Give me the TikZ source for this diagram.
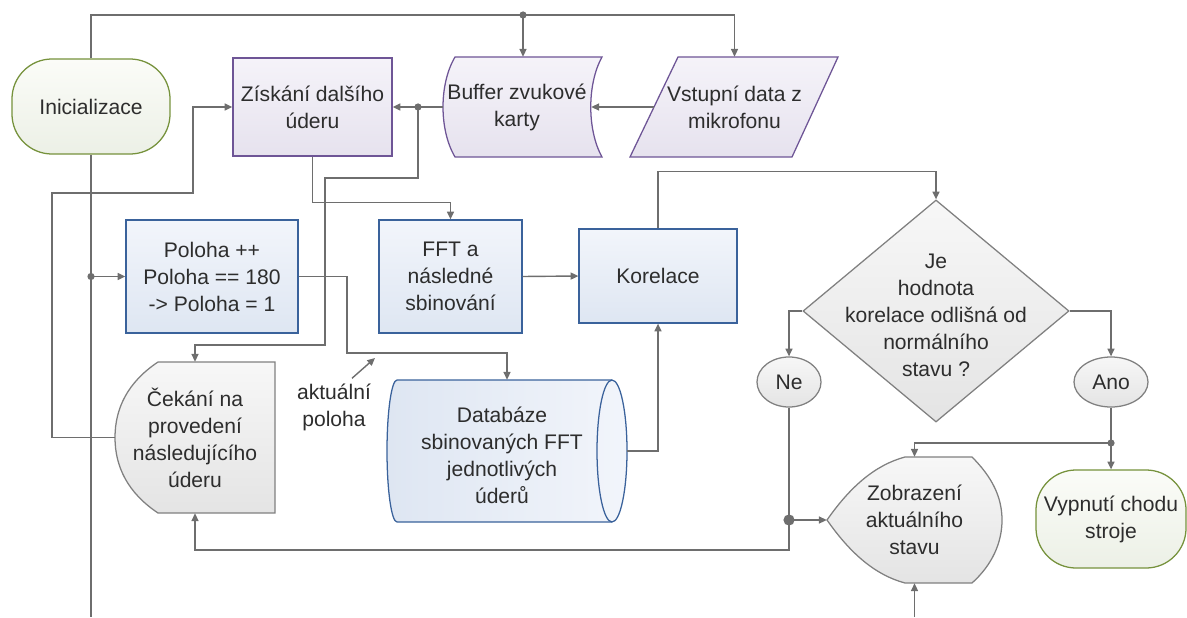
\documentclass[tikz,border=0pt]{standalone}
\usepackage{fontspec}
\setmainfont{Liberation Sans}
\usetikzlibrary{arrows.meta,shapes.geometric}
\definecolor{textgray}{RGB}{45,45,45}
\definecolor{linegray}{RGB}{110,110,110}
\definecolor{purpleb}{RGB}{110,85,150}
\definecolor{purpletop}{RGB}{245,243,249}
\definecolor{purplebot}{RGB}{230,226,238}
\definecolor{blueb}{RGB}{58,98,155}
\definecolor{bluetop}{RGB}{242,245,251}
\definecolor{bluebot}{RGB}{222,230,242}
\definecolor{greenb}{RGB}{118,146,60}
\definecolor{greentop}{RGB}{251,252,248}
\definecolor{greenbot}{RGB}{236,240,230}
\definecolor{grayb}{RGB}{128,128,128}
\definecolor{graytop}{RGB}{247,247,247}
\definecolor{graybot}{RGB}{228,228,228}
\begin{document}
\begin{tikzpicture}[x=0.025cm, y=-0.025cm,
	every node/.style={font=\fontsize{15}{19.2}\selectfont, text=textgray, align=center, inner sep=0pt},
	procpurple/.style={draw=purpleb, line width=0.9pt, top color=purpletop, bottom color=purplebot},
	procblue/.style={draw=blueb, line width=0.9pt, top color=bluetop, bottom color=bluebot},
	dbstyle/.style={draw=blueb, line width=0.9pt, left color=bluebot, right color=bluetop},
	termgreen/.style={draw=greenb, line width=0.9pt, top color=greentop, bottom color=greenbot, rounded corners=1cm},
	shapegray/.style={draw=grayb, line width=0.9pt, top color=graytop, bottom color=graybot},
	conn/.style={draw=linegray, line width=1pt},
	conarrow/.style={conn, -{Triangle[length=5.5pt, width=5pt]}}]
		\useasboundingbox (0,0) rectangle (1187,617);
		\node[termgreen, minimum width=3.95cm, minimum height=2.375cm] (init) at (91,106.5) {Inicializace};
		\node[procpurple, minimum width=3.975cm, minimum height=2.45cm] (zis) at (312.5,107) {Získání dalšího\\úderu};
		\draw[procpurple] (455,57) -- (602,57) .. controls (587,84) and (587,130) .. (602,157) -- (455,157) .. controls (439,130) and (439,84) .. (455,57) -- cycle;
		\node[minimum width=3.7cm, minimum height=2.5cm] (buf) at (517,107) {Buffer zvukové\\karty};
		\draw[procpurple] (678,57) -- (838,57) -- (792,157) -- (630,157) -- cycle;
		\node[minimum width=4.025cm, minimum height=2.5cm] (vin) at (734.5,107) {Vstupní data z\\mikrofonu};
		\node[procblue, minimum width=4.3cm, minimum height=2.825cm] (pol) at (212,276.5) {Poloha ++\\Poloha == 180\\-> Poloha = 1};
		\node[procblue, minimum width=3.575cm, minimum height=2.825cm] (fft) at (450.5,276.5) {FFT a\\následné\\sbinování};
		\node[procblue, minimum width=3.95cm, minimum height=2.35cm] (kor) at (658,276) {Korelace};
		% database cylinder
		\draw[dbstyle] (397,380) -- (612,380) .. controls (620.3,380) and (627,411.8) .. (627,451) .. controls (627,490.2) and (620.3,522) .. (612,522) -- (397,522) .. controls (391.5,522) and (387,490.2) .. (387,451) .. controls (387,411.8) and (391.5,380) .. (397,380) -- cycle;
		\draw[draw=blueb, line width=0.9pt] (612,380) .. controls (603.7,380) and (597,411.8) .. (597,451) .. controls (597,490.2) and (603.7,522) .. (612,522);
		\node[minimum width=6cm, minimum height=3.55cm] (db) at (507,451) {};
		\node (dbtext) at (502,455) {Databáze\\sbinovaných FFT\\jednotlivých\\úderů};
		\draw[shapegray] (275,362) -- (158,362) .. controls (128,382) and (115,408) .. (115,437.5) .. controls (115,467) and (128,493) .. (158,513) -- (275,513) -- cycle;
		\node[minimum width=4cm, minimum height=3.775cm] (cek) at (195,437.5) {Čekání na\\provedení\\následujícího\\úderu};
		\node (akt) at (334,407) {aktuální\\poloha};
		\node[shapegray, diamond, minimum width=6.65cm, minimum height=5.55cm] (dec) at (936,311) {};
		\node (dectext) at (936,315) {Je\\hodnota\\korelace odlišná od\\normálního\\stavu ?};
		\node[shapegray, ellipse, minimum width=1.6cm, minimum height=1.25cm] (ne) at (789,382) {Ne};
		\node[shapegray, ellipse, minimum width=1.85cm, minimum height=1.25cm] (ano) at (1111,382) {Ano};
		\draw[shapegray] (827,520) .. controls (850,487) and (875,465) .. (905,457) -- (972,457) .. controls (992,477) and (1002,497) .. (1002,520) .. controls (1002,543) and (992,565) .. (972,583) -- (905,583) .. controls (875,575) and (850,553) .. (827,520) -- cycle;
		\node[minimum width=4.375cm, minimum height=3.15cm] (zob) at (914.5,520) {Zobrazení\\aktuálního\\stavu};
		\node[termgreen, minimum width=3.75cm, minimum height=2.45cm] (vyp) at (1111,519) {Vypnutí chodu\\stroje};
		% Junctions
		\coordinate (top) at (523,15);
		\coordinate (bot) at (0,617);
		\coordinate (j2) at (418,107);
		\coordinate (j4) at (1111,443);
		\coordinate (aktp) at (375,358);
		% Arrows
		\draw[conn] (init.north) |- (top);
		\draw[conarrow] (top) -| (vin.north);
		\draw[conarrow] (top) -- (top |- buf.north);
		\draw[conn] (init.south) -- (init.south |- bot);
		\draw[conarrow] (init.south |- pol.west) -- (pol.west);
		\draw[conarrow] (vin.west) -- (buf.east);
		\draw[conarrow] (buf.west) -- (zis.east);
		\draw[conarrow] (j2) -- (418,178) -| (325,345) -| (cek.north);
		\draw[conarrow] (cek.west) -| (52,193) -- (193,193) |- (zis.west);
		\draw[conarrow] (zis.south) -- ++(0,46) -| (fft.north);
		\draw[conarrow] (pol.east) -| (347,353) -| (db.north);
		\draw[conarrow] ([shift={(18,-5)}]akt.north) -- (aktp);
		\draw[conarrow] (fft.east) -- (kor.west);
		\draw[conarrow] (kor.north) -- ++(0,-57) -| (dec.north);
		\draw[conarrow] (db.east) -| (kor.south);
		\draw[conarrow] (dec.west) -| (ne.north);
		\draw[conarrow] (dec.east) -| (ano.north);
		\draw[conarrow] (ano.south) -- (vyp.north);
		\draw[conarrow] (j4) -| (zob.north);
		\draw[conarrow] (ne.south) -- (789,550) -| (cek.south);
		\draw[conarrow] (ne.south |- zob.west) -- (zob.west);
		\draw[conarrow] (zob.south |- bot) -- (zob.south);
		% Dots
		\fill[linegray] (top) circle (0.09cm);
		\fill[linegray] (init.south |- pol.west) circle (0.09cm);
		\fill[linegray] (j2) circle (0.09cm);
		\fill[linegray] (j4) circle (0.09cm);
		\fill[linegray] (ne.south |- zob.west) circle (0.14cm);
	\end{tikzpicture}
\end{document}
